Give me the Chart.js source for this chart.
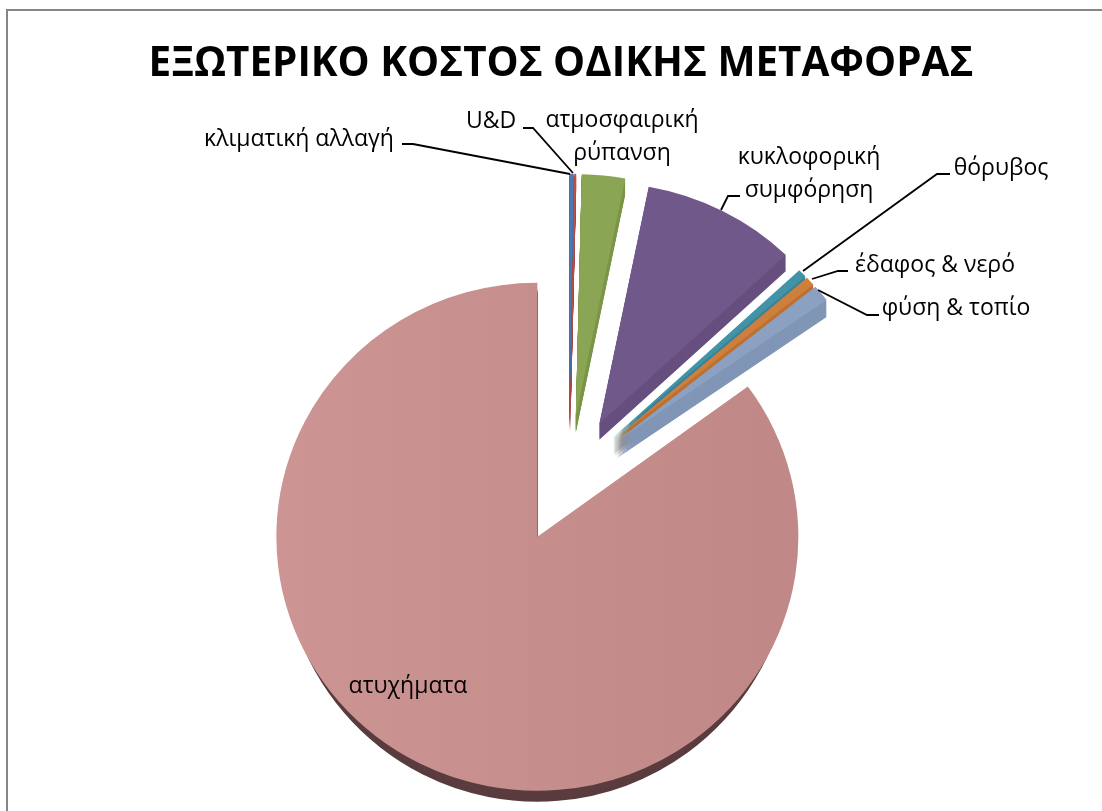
<!DOCTYPE html>
<html>
<head>
<meta charset="utf-8">
<title>Εξωτερικό κόστος οδικής μεταφοράς</title>
<script src="https://cdn.jsdelivr.net/npm/chart.js@4/dist/chart.umd.min.js"></script>
<style>
  html, body { margin: 0; padding: 0; background: #fff; overflow: hidden; }
  #wrap { position: relative; width: 1102px; height: 811px; }
  #frame { position: absolute; left: 6px; top: 9px; right: -4px; bottom: -4px; border: 2px solid #868686; }
  canvas { position: absolute; left: 0; top: 0; }
</style>
</head>
<body>
<div id="wrap">
  <div id="frame"></div>
  <canvas id="costPie" width="1102" height="811"></canvas>
</div>
<script>
// ── DATA ──
const CATEGORIES = ['κλιματική αλλαγή', 'U&D', 'ατμοσφαιρική ρύπανση', 'κυκλοφορική συμφόρηση',
                    'θόρυβος', 'έδαφος & νερό', 'φύση & τοπίο', 'ατυχήματα'];
const COSTS      = [0.25, 0.11, 2.67, 9.64, 0.55, 0.6, 1.1, 85];

// ── SLICE STYLE ──
const TOP_COLORS  = ['#4a7ab0', '#c0504d', '#8aa553', '#70588a', '#4393a8', '#ce7f3d', '#8ca0c2', '#c68e8c'];
const WALL_COLORS = ['#3f6a9c', '#a8423f', '#7c9648', '#664e7e', '#3a8296', '#bd7030', '#8196b6', '#5a3c3e'];
const EXPLODE = [64, 64, 64, 64, 60, 60, 60, 70];  // how far each slice sits from the centre, px
const TILT    = [0.93, 0.93, 0.93, 0.925, 0.92, 0.92, 0.92, 0.973];  // vertical squash of the 3D view
const DEPTH   = [16, 16, 16, 16, 17, 17, 17, 11];
const WALL_TOP = [1, 1, 1, 1, 1, 1, 1, 7];  // first wall layer, the big slice starts lower to stay behind its notch
const WALL_WIDTH = [1, 1, 1, 1, 1, 1, 1, 0.975];  // narrower wall only shows along the near rim
const RADIUS  = 261;
const CENTER  = { x: 569, y: 476 };

// ── LABELS ──
const LABEL_FONT = "23px 'Open Sans', sans-serif";
const LABELS = [
  { lines: ['κλιματική αλλαγή'], x: 299, y: 139.5 },
  { lines: ['U&D'], x: 491, y: 121.5 },
  { lines: ['ατμοσφαιρική', 'ρύπανση'], x: 622, y: 120.5 },
  { lines: ['κυκλοφορική', 'συμφόρηση'], x: 809, y: 157.5 },
  { lines: ['θόρυβος'], x: 1001, y: 168.5 },
  { lines: ['έδαφος & νερό'], x: 935, y: 265.5 },
  { lines: ['φύση & τοπίο'], x: 956, y: 308.5 },
  { lines: ['ατυχήματα'], x: 408, y: 686.5 },
];
const LINE_GAP = 33;
const LEADERS = [
  [[402, 144], [413, 144], [570, 174]],
  [[523, 128], [533, 128], [573, 173]],
  [[740, 196], [728, 196], [721, 210]],
  [[950, 174], [937, 174], [803, 271]],
  [[848, 271], [838, 271], [812, 279]],
  [[879, 315], [867, 315], [818, 290]],
];

// ── 3D PIE DRAWING ──
// Slices are pulled out here rather than with the offset option, which eats thin slices.
const tiltedPie = {
  id: 'tiltedPie',
  beforeDatasetDraw(chart, args) {
    const { ctx } = chart;
    const order = [7, 0, 1, 2, 3, 4, 5, 6];
    order.forEach(i => {
      const arc = args.meta.data[i];
      const solid = arc.options;
      const mid = (arc.startAngle + arc.endAngle) / 2;
      ctx.save();
      ctx.translate(CENTER.x - arc.x, CENTER.y - arc.y * TILT[i]);
      ctx.scale(1, TILT[i]);
      ctx.translate(Math.cos(mid) * EXPLODE[i], Math.sin(mid) * EXPLODE[i]);
      // side wall: the slice stacked downwards in the darker colour
      arc.options = Object.assign({}, solid, { backgroundColor: WALL_COLORS[i] });
      for (let d = DEPTH[i]; d >= WALL_TOP[i]; d--) {
        ctx.save();
        ctx.translate(arc.x, d / TILT[i]);
        ctx.scale(WALL_WIDTH[i], 1);
        ctx.translate(-arc.x, 0);
        arc.draw(ctx, chart.chartArea);
        ctx.restore();
      }
      arc.options = solid;
      arc.draw(ctx, chart.chartArea);
      ctx.restore();
    });
    return false;
  },
  afterDraw(chart) {
    const { ctx } = chart;
    ctx.save();
    ctx.strokeStyle = '#000';
    ctx.lineWidth = 1.8;
    LEADERS.forEach(pts => {
      ctx.beginPath();
      pts.forEach(([x, y], i) => i ? ctx.lineTo(x, y) : ctx.moveTo(x, y));
      ctx.stroke();
    });
    ctx.fillStyle = '#000';
    ctx.font = LABEL_FONT;
    ctx.textAlign = 'center';
    ctx.textBaseline = 'middle';
    LABELS.forEach(l => l.lines.forEach((t, i) => ctx.fillText(t, l.x, l.y + i * LINE_GAP)));
    ctx.restore();
  }
};

// ── CHART ──
const canvas = document.getElementById('costPie');
const g2d = canvas.getContext('2d');

const mainFill = g2d.createLinearGradient(270, 0, 790, 0);
mainFill.addColorStop(0, '#cd9593');
mainFill.addColorStop(1, '#c08886');
const fills = TOP_COLORS.slice();
fills[7] = mainFill;

new Chart(canvas, {
  type: 'pie',
  data: {
    labels: CATEGORIES,
    datasets: [{
      data: COSTS,
      backgroundColor: fills,
      borderWidth: 0,
      radius: RADIUS,
    }]
  },
  options: {
    responsive: false,
    animation: false,
    layout: { padding: { left: 20 } },  // keeps the title centred over the plot
    plugins: {
      legend: { display: false },
      tooltip: { enabled: false },
      title: {
        display: true,
        text: 'ΕΞΩΤΕΡΙΚΟ ΚΟΣΤΟΣ ΟΔΙΚΗΣ ΜΕΤΑΦΟΡΑΣ',
        color: '#000',
        align: 'center',
        font: { family: "'Open Sans', sans-serif", size: 40.4, weight: 'bold', lineHeight: 1.2 },
        padding: { top: 40, bottom: 5 },
      },
    },
  },
  plugins: [tiltedPie],
});
</script>
</body>
</html>
